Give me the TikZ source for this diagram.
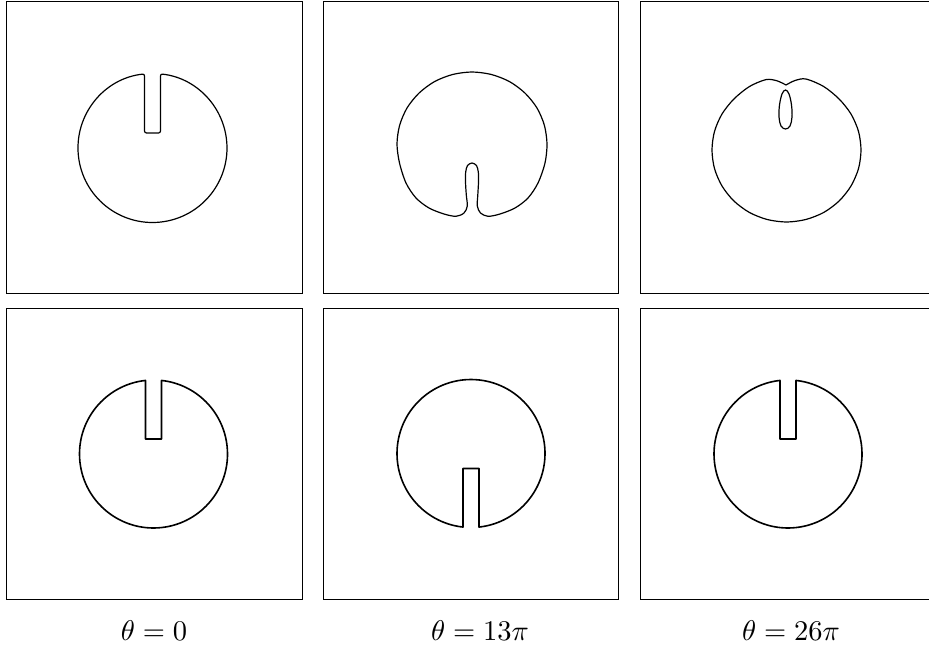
\documentclass[tikz,border=0pt]{standalone}
\begin{document}
\begin{tikzpicture}[x=1pt,y=-1pt,
  frame/.style={line width=0.9pt},
  numcurve/.style={line width=1.2pt, line join=round},
  exactcurve/.style={line width=1.6pt, line join=round},
  lbl/.style={scale=2.85, anchor=base, inner sep=0pt}]
\useasboundingbox (0,0) rectangle (929,648);
\clip (0,0) rectangle (929,648);
% frames
\draw[frame] (6,1) rectangle (302,293);
\draw[frame] (323,1) rectangle (618,293);
\draw[frame] (640,1) rectangle (936,293);
\draw[frame] (6,308) rectangle (302,599);
\draw[frame] (323,308) rectangle (618,599);
\draw[frame] (640,308) rectangle (936,599);
% top-left: numerical, theta = 0
\draw[numcurve, rounded corners=2pt] (144.5,133) -- (144.5,73.93)
  arc[start angle=263.84, end angle=-83.84, radius=74.5] -- (160.5,133) -- cycle;
% top-middle: numerical, theta = 13 pi
\draw[numcurve] plot[smooth cycle, tension=0.5] coordinates {
  (397,144) (399.6,125.4) (407,108) (419,93.1) (434.5,81.6) (452.6,74.5)
  (472,72) (491.4,74.5) (509.5,81.6) (525,93.1) (537,108) (544.4,125.4)
  (547,144) (545,163) (538,183) (528,198) (515,208) (500,214) (488,216.3)
  (480.5,213) (477.3,206) (477.8,195) (478.5,182) (478.3,172) (476.5,165.5)
  (472,163) (467.5,165.5) (465.7,172) (465.5,182) (466.3,195) (467.3,206)
  (464,213) (456,216.3) (444,214) (429,208) (416,198) (406,183) (399.5,163)};
% top-right: numerical, theta = 26 pi
\draw[numcurve] plot[smooth, tension=0.5] coordinates {
  (786,85) (777,80.8) (766,79.6) (749.3,86.6) (733.8,99.1) (722,114)
  (714.5,131.4) (712,150) (714.5,168.6) (722,186) (733.8,200.9)
  (749.3,212.4) (767.2,219.5) (786.5,222) (805.8,219.5) (823.8,212.4)
  (839.2,200.9) (851,186) (858.5,168.6) (861,150) (858.5,131.4)
  (851,114) (839.2,99.1) (823.8,86.6) (806,79) (795,80.5) (786,85)};
\draw[numcurve] plot[smooth cycle, tension=0.6] coordinates {
  (785.5,90) (789,94) (791.5,105) (792,117) (790,126) (785.5,129)
  (781,126) (779,117) (779.5,105) (782,94)};
% bottom row: exact
\draw[exactcurve] (145.5,439) -- (145.5,380.43)
  arc[start angle=263.79, end angle=-83.79, radius=74] -- (161.5,439) -- cycle;
\draw[exactcurve] (463,468.5) -- (463,527.07)
  arc[start angle=96.21, end angle=443.79, radius=74] -- (479,468.5) -- cycle;
\draw[exactcurve] (780,439) -- (780,380.43)
  arc[start angle=263.79, end angle=-83.79, radius=74] -- (796,439) -- cycle;
% labels
\node[lbl] (l1) at (154,640) {$\theta=0$};
\node[lbl] (l2) at (480,640) {$\theta=13\pi$};
\node[lbl] (l3) at (791,640) {$\theta=26\pi$};
\end{tikzpicture}
\end{document}
